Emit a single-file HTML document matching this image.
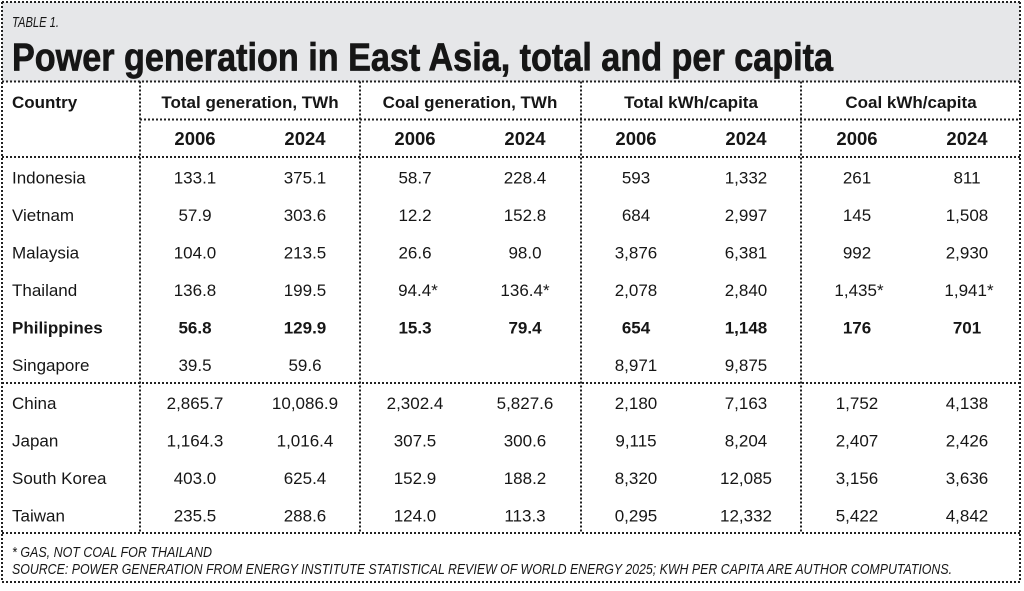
<!DOCTYPE html>
<html>
<head>
<meta charset="utf-8">
<style>
html,body{margin:0;padding:0;background:#fff;}
svg{display:block;}
text{font-family:"Liberation Sans",Arial,sans-serif;fill:#161616;}
.b{font-weight:bold;}
.d{font-size:17px;}
.c{text-anchor:middle;}
.h{font-size:17px;font-weight:bold;}
.y{font-size:18.5px;font-weight:bold;}
.it{font-style:italic;font-size:15px;}
line{stroke:#222;stroke-width:2;stroke-dasharray:2 2;}
</style>
</head>
<body>
<svg width="1024" height="591" viewBox="0 0 1024 591" xmlns="http://www.w3.org/2000/svg">
<rect x="0" y="0" width="1024" height="591" fill="#fff"/>
<rect x="2" y="2" width="1018" height="79.5" fill="#e6e7e9"/>

<!-- borders -->
<line x1="2" y1="2" x2="1020" y2="2"/>
<line x1="2" y1="81.5" x2="1020" y2="81.5"/>
<line x1="140" y1="119.5" x2="1020" y2="119.5"/>
<line x1="2" y1="157" x2="1020" y2="157"/>
<line x1="2" y1="383" x2="1020" y2="383"/>
<line x1="2" y1="533" x2="1020" y2="533"/>
<line x1="2" y1="582" x2="1020" y2="582"/>
<line x1="2" y1="2" x2="2" y2="582"/>
<line x1="1020" y1="2" x2="1020" y2="582"/>
<line x1="140" y1="81.5" x2="140" y2="533"/>
<line x1="360" y1="81.5" x2="360" y2="533"/>
<line x1="581" y1="81.5" x2="581" y2="533"/>
<line x1="801" y1="81.5" x2="801" y2="533"/>

<!-- title -->
<text x="12" y="27" class="it" textLength="47" lengthAdjust="spacingAndGlyphs">TABLE 1.</text>
<text x="12" y="70.5" class="b" style="font-size:39px;stroke:#161616;stroke-width:0.7" textLength="821" lengthAdjust="spacingAndGlyphs">Power generation in East Asia, total and per capita</text>

<!-- headers -->
<text x="12" y="108" class="h">Country</text>
<text x="250" y="108" class="h c">Total generation, TWh</text>
<text x="470" y="108" class="h c">Coal generation, TWh</text>
<text x="691" y="108" class="h c">Total kWh/capita</text>
<text x="911" y="108" class="h c">Coal kWh/capita</text>

<text x="195" y="145" class="y c">2006</text>
<text x="305" y="145" class="y c">2024</text>
<text x="415" y="145" class="y c">2006</text>
<text x="525" y="145" class="y c">2024</text>
<text x="636" y="145" class="y c">2006</text>
<text x="746" y="145" class="y c">2024</text>
<text x="857" y="145" class="y c">2006</text>
<text x="967" y="145" class="y c">2024</text>

<!-- rows -->
<g class="d">
<text x="12" y="183.5">Indonesia</text>
<text x="195" y="183.5" class="c">133.1</text><text x="305" y="183.5" class="c">375.1</text>
<text x="415" y="183.5" class="c">58.7</text><text x="525" y="183.5" class="c">228.4</text>
<text x="636" y="183.5" class="c">593</text><text x="746" y="183.5" class="c">1,332</text>
<text x="857" y="183.5" class="c">261</text><text x="967" y="183.5" class="c">811</text>

<text x="12" y="221">Vietnam</text>
<text x="195" y="221" class="c">57.9</text><text x="305" y="221" class="c">303.6</text>
<text x="415" y="221" class="c">12.2</text><text x="525" y="221" class="c">152.8</text>
<text x="636" y="221" class="c">684</text><text x="746" y="221" class="c">2,997</text>
<text x="857" y="221" class="c">145</text><text x="967" y="221" class="c">1,508</text>

<text x="12" y="258.5">Malaysia</text>
<text x="195" y="258.5" class="c">104.0</text><text x="305" y="258.5" class="c">213.5</text>
<text x="415" y="258.5" class="c">26.6</text><text x="525" y="258.5" class="c">98.0</text>
<text x="636" y="258.5" class="c">3,876</text><text x="746" y="258.5" class="c">6,381</text>
<text x="857" y="258.5" class="c">992</text><text x="967" y="258.5" class="c">2,930</text>

<text x="12" y="296">Thailand</text>
<text x="195" y="296" class="c">136.8</text><text x="305" y="296" class="c">199.5</text>
<text x="418" y="296" class="c">94.4*</text><text x="525" y="296" class="c">136.4*</text>
<text x="636" y="296" class="c">2,078</text><text x="746" y="296" class="c">2,840</text>
<text x="859" y="296" class="c">1,435*</text><text x="969" y="296" class="c">1,941*</text>

<g class="b">
<text x="12" y="333.5">Philippines</text>
<text x="195" y="333.5" class="c">56.8</text><text x="305" y="333.5" class="c">129.9</text>
<text x="415" y="333.5" class="c">15.3</text><text x="525" y="333.5" class="c">79.4</text>
<text x="636" y="333.5" class="c">654</text><text x="746" y="333.5" class="c">1,148</text>
<text x="857" y="333.5" class="c">176</text><text x="967" y="333.5" class="c">701</text>
</g>

<text x="12" y="371">Singapore</text>
<text x="195" y="371" class="c">39.5</text><text x="305" y="371" class="c">59.6</text>
<text x="636" y="371" class="c">8,971</text><text x="746" y="371" class="c">9,875</text>

<text x="12" y="409">China</text>
<text x="195" y="409" class="c">2,865.7</text><text x="305" y="409" class="c">10,086.9</text>
<text x="415" y="409" class="c">2,302.4</text><text x="525" y="409" class="c">5,827.6</text>
<text x="636" y="409" class="c">2,180</text><text x="746" y="409" class="c">7,163</text>
<text x="857" y="409" class="c">1,752</text><text x="967" y="409" class="c">4,138</text>

<text x="12" y="446.5">Japan</text>
<text x="195" y="446.5" class="c">1,164.3</text><text x="305" y="446.5" class="c">1,016.4</text>
<text x="415" y="446.5" class="c">307.5</text><text x="525" y="446.5" class="c">300.6</text>
<text x="636" y="446.5" class="c">9,115</text><text x="746" y="446.5" class="c">8,204</text>
<text x="857" y="446.5" class="c">2,407</text><text x="967" y="446.5" class="c">2,426</text>

<text x="12" y="484">South Korea</text>
<text x="195" y="484" class="c">403.0</text><text x="305" y="484" class="c">625.4</text>
<text x="415" y="484" class="c">152.9</text><text x="525" y="484" class="c">188.2</text>
<text x="636" y="484" class="c">8,320</text><text x="746" y="484" class="c">12,085</text>
<text x="857" y="484" class="c">3,156</text><text x="967" y="484" class="c">3,636</text>

<text x="12" y="521.5">Taiwan</text>
<text x="195" y="521.5" class="c">235.5</text><text x="305" y="521.5" class="c">288.6</text>
<text x="415" y="521.5" class="c">124.0</text><text x="525" y="521.5" class="c">113.3</text>
<text x="636" y="521.5" class="c">0,295</text><text x="746" y="521.5" class="c">12,332</text>
<text x="857" y="521.5" class="c">5,422</text><text x="967" y="521.5" class="c">4,842</text>
</g>

<!-- footer -->
<text x="12" y="557" class="it" textLength="200" lengthAdjust="spacingAndGlyphs">* GAS, NOT COAL FOR THAILAND</text>
<text x="12" y="574" class="it" textLength="940" lengthAdjust="spacingAndGlyphs">SOURCE: POWER GENERATION FROM ENERGY INSTITUTE STATISTICAL REVIEW OF WORLD ENERGY 2025; KWH PER CAPITA ARE AUTHOR COMPUTATIONS.</text>
</svg>
</body>
</html>
